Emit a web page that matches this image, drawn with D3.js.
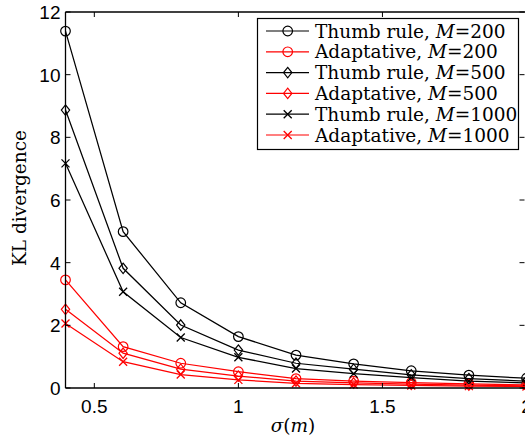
<!DOCTYPE html>
<html><head><meta charset="utf-8">
<script src="https://cdn.jsdelivr.net/npm/d3@7"></script>
<style>body{margin:0;background:#fff}svg{display:block}</style>
</head><body><svg id="c" width="525" height="439"></svg>
<script>
const sigma = [0.4, 0.6, 0.8, 1.0, 1.2, 1.4, 1.6, 1.8, 2.0];
const thumb200 = [11.39, 4.99, 2.72, 1.64, 1.05, 0.77, 0.55, 0.41, 0.31];
const adapt200 = [3.45, 1.32, 0.79, 0.52, 0.30, 0.22, 0.17, 0.13, 0.10];
const thumb500 = [8.87, 3.82, 2.01, 1.21, 0.79, 0.60, 0.42, 0.30, 0.22];
const adapt500 = [2.51, 1.11, 0.60, 0.38, 0.22, 0.16, 0.12, 0.09, 0.07];
const thumb1000 = [7.17, 3.07, 1.61, 0.98, 0.62, 0.46, 0.33, 0.22, 0.16];
const adapt1000 = [2.06, 0.84, 0.43, 0.26, 0.15, 0.11, 0.08, 0.06, 0.05];
const seriesNames = ["Thumb rule", "Adaptative", "Thumb rule", "Adaptative", "Thumb rule", "Adaptative"];
const seriesM = ["200", "200", "500", "500", "1000", "1000"];
const xTicks = [0.5, 1, 1.5, 2];
const yTicks = [0, 2, 4, 6, 8, 10, 12];

const series = [
  {name: seriesNames[0], m: seriesM[0], vals: thumb200, color: "#000", marker: "circle"},
  {name: seriesNames[1], m: seriesM[1], vals: adapt200, color: "#ff0000", marker: "circle"},
  {name: seriesNames[2], m: seriesM[2], vals: thumb500, color: "#000", marker: "diamond"},
  {name: seriesNames[3], m: seriesM[3], vals: adapt500, color: "#ff0000", marker: "diamond"},
  {name: seriesNames[4], m: seriesM[4], vals: thumb1000, color: "#000", marker: "cross"},
  {name: seriesNames[5], m: seriesM[5], vals: adapt1000, color: "#ff0000", marker: "cross"}
];

const L = 65.5, R = 526.5, T = 12, B = 388;
const svg = d3.select("#c");
const x = d3.scaleLinear().domain([0.4, 2.0]).range([L, R]);
const y = d3.scaleLinear().domain([0, 12]).range([B, T]);

function drawMarker(g, type, cx, cy, color) {
  if (type === "circle") {
    g.append("circle").attr("cx", cx).attr("cy", cy).attr("r", 4.8)
      .attr("fill", "none").attr("stroke", color).attr("stroke-width", 1.2);
  } else if (type === "diamond") {
    const s = 5.2;
    g.append("path").attr("d", `M${cx},${cy-s}L${cx+s*0.8},${cy}L${cx},${cy+s}L${cx-s*0.8},${cy}Z`)
      .attr("fill", "none").attr("stroke", color).attr("stroke-width", 1.2);
  } else {
    const s = 4;
    g.append("path").attr("d", `M${cx-s},${cy-s}L${cx+s},${cy+s}M${cx-s},${cy+s}L${cx+s},${cy-s}`)
      .attr("fill", "none").attr("stroke", color).attr("stroke-width", 1.3);
  }
}

// Series
const line = d3.line().x((d, i) => x(sigma[i])).y(d => y(d));
series.forEach(s => {
  const g = svg.append("g");
  g.append("path").attr("d", line(s.vals)).attr("fill", "none")
    .attr("stroke", s.color).attr("stroke-width", 1.25);
  s.vals.forEach((v, i) => drawMarker(g, s.marker, x(sigma[i]), y(v), s.color));
});

// Axes
const ax = svg.append("g").attr("stroke", "#000").attr("stroke-width", 1.3);
ax.append("line").attr("x1", L).attr("x2", R).attr("y1", B).attr("y2", B);
ax.append("line").attr("x1", L).attr("x2", R).attr("y1", T).attr("y2", T);
ax.append("line").attr("x1", L).attr("x2", L).attr("y1", T).attr("y2", B);
ax.append("line").attr("x1", R).attr("x2", R).attr("y1", T).attr("y2", B);
const tk = 5;
xTicks.forEach(t => {
  ax.append("line").attr("x1", x(t)).attr("x2", x(t)).attr("y1", B).attr("y2", B - tk).attr("stroke-width", 1);
  ax.append("line").attr("x1", x(t)).attr("x2", x(t)).attr("y1", T).attr("y2", T + tk).attr("stroke-width", 1);
});
yTicks.forEach(t => {
  ax.append("line").attr("x1", L).attr("x2", L + tk).attr("y1", y(t)).attr("y2", y(t)).attr("stroke-width", 1);
  ax.append("line").attr("x1", R - 2).attr("x2", R - 2 - tk).attr("y1", y(t)).attr("y2", y(t)).attr("stroke-width", 1);
});

const tf = "'Liberation Sans', Arial, sans-serif";
svg.append("g").selectAll("text").data(xTicks).join("text")
  .attr("x", d => x(d)).attr("y", 413).attr("text-anchor", "middle")
  .attr("font-family", tf).attr("font-size", 19).text(d => d3.format("")(d));
svg.append("g").selectAll("text").data(yTicks).join("text")
  .attr("x", L - 5).attr("y", d => y(d) + 7).attr("text-anchor", "end")
  .attr("font-family", tf).attr("font-size", 19).text(d => d);

const sf = "'DejaVu Serif', serif";
const xl = svg.append("text").attr("x", 293).attr("y", 432).attr("text-anchor", "middle")
  .attr("font-family", sf).attr("font-size", 18.5);
xl.append("tspan").attr("font-style", "italic").text("σ");
xl.append("tspan").text("(");
xl.append("tspan").attr("font-style", "italic").text("m");
xl.append("tspan").text(")");

svg.append("text").attr("transform", "translate(26,198) rotate(-90)").attr("text-anchor", "middle")
  .attr("font-family", sf).attr("font-size", 18.5).text("KL divergence");

// Legend
const lg = svg.append("g");
lg.append("rect").attr("x", 257.5).attr("y", 18.5).attr("width", 261).attr("height", 131)
  .attr("fill", "#fff").attr("stroke", "#000").attr("stroke-width", 1.2);
series.forEach((s, i) => {
  const yy = 31 + i * 20.8;
  lg.append("line").attr("x1", 266).attr("x2", 309).attr("y1", yy).attr("y2", yy)
    .attr("stroke", s.color).attr("stroke-width", 1.2);
  drawMarker(lg, s.marker, 287.7, yy, s.color);
  const t = lg.append("text").attr("x", 315).attr("y", yy + 6.5)
    .attr("font-family", sf).attr("font-size", 18.5);
  t.append("tspan").text(s.name + ", ");
  t.append("tspan").attr("font-style", "italic").text("M");
  t.append("tspan").text("=" + s.m);
});
</script>
</body></html>
